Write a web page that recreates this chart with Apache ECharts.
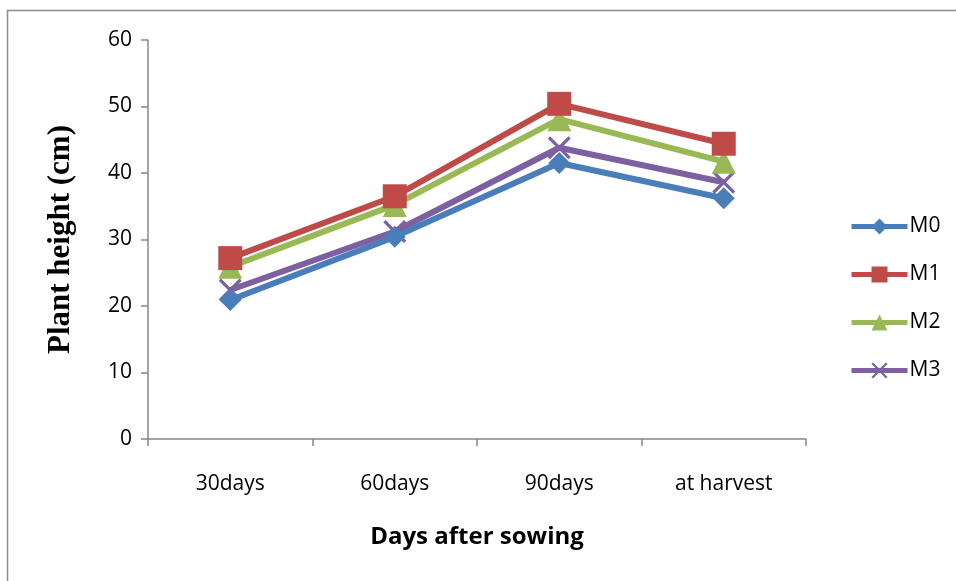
<!DOCTYPE html>
<html>
<head>
<meta charset="utf-8">
<script src="https://cdn.jsdelivr.net/npm/echarts@6/dist/echarts.min.js"></script>
<style>
html,body{margin:0;padding:0;background:#fff;}
#chart{width:956px;height:581px;}
</style>
</head>
<body>
<div id="chart"></div>
<script>
// Plant height over growth stages for four treatments
const stages = ['30days', '60days', '90days', 'at harvest'];
const m0 = [20.9, 30.4, 41.5, 36.2];
const m1 = [27.2, 36.5, 50.4, 44.4];
const m2 = [25.9, 35.2, 48.1, 41.7];
const m3 = [22.4, 31.2, 43.8, 38.6];
const seriesNames = ['M0', 'M1', 'M2', 'M3'];
const yTicks = { min: 0, max: 60, interval: 10 };

const colors = ['#4a7ebb', '#be4b48', '#98b954', '#7d60a0'];
const symbols = ['diamond', 'rect', 'triangle', 'path://M2,0 L10,8 L18,0 L20,2 L12,10 L20,18 L18,20 L10,12 L2,20 L0,18 L8,10 L0,2 Z'];
const symbolSizes = [22, 24, 24, 23];
const values = [m0, m1, m2, m3];

const chart = echarts.init(document.getElementById('chart'), null, { renderer: 'canvas' });

const labelFont = '"Open Sans", "Liberation Sans", sans-serif';

chart.setOption({
  animation: false,
  backgroundColor: '#ffffff',
  color: colors,
  graphic: [{
    type: 'rect',
    shape: { x: 7.5, y: 10.5, width: 1200, height: 1200 },
    style: { fill: 'none', stroke: '#8c8c8c', lineWidth: 1.5 },
    silent: true
  }],
  grid: { left: 148, right: 150, top: 40, bottom: 142, containLabel: false },
  legend: {
    orient: 'vertical',
    left: 844,
    top: 211,
    itemWidth: 56,
    itemHeight: 20,
    itemGap: 27,
    lineStyle: { width: 5 },
    textStyle: { fontFamily: labelFont, fontSize: 21, color: '#000', padding: [0, 0, 0, -3] },
    data: seriesNames
  },
  xAxis: {
    type: 'category',
    data: stages,
    boundaryGap: true,
    axisLine: { lineStyle: { color: '#868686', width: 1.5 } },
    axisTick: { show: true, length: 7, lineStyle: { color: '#868686', width: 1.5 } },
    axisLabel: { fontFamily: labelFont, fontSize: 21, color: '#000', margin: 35 },
    name: 'Days after sowing',
    nameLocation: 'middle',
    nameGap: 86,
    nameTextStyle: { fontFamily: labelFont, fontSize: 24, fontWeight: 'bold', color: '#000' }
  },
  yAxis: {
    type: 'value',
    min: yTicks.min,
    max: yTicks.max,
    interval: yTicks.interval,
    splitLine: { show: false },
    axisLine: { show: true, lineStyle: { color: '#868686', width: 1.5 } },
    axisTick: { show: true, length: 7, lineStyle: { color: '#868686', width: 1.5 } },
    axisLabel: { fontFamily: labelFont, fontSize: 21, color: '#000', margin: 16 },
    name: 'Plant height (cm)',
    nameLocation: 'middle',
    nameGap: 72,
    nameRotate: 90,
    nameTextStyle: { fontFamily: '"Liberation Serif", "DejaVu Serif", serif', fontSize: 31, fontWeight: 'bold', color: '#000' }
  },
  series: seriesNames.map((name, i) => ({
    name: name,
    type: 'line',
    data: values[i],
    symbol: symbols[i],
    symbolSize: symbolSizes[i],
    showAllSymbol: true,
    lineStyle: { width: 6, color: colors[i] },
    itemStyle: { color: colors[i], borderColor: colors[i], borderWidth: 0 },
    z: 2 + (3 - i)
  }))
});
</script>
</body>
</html>
